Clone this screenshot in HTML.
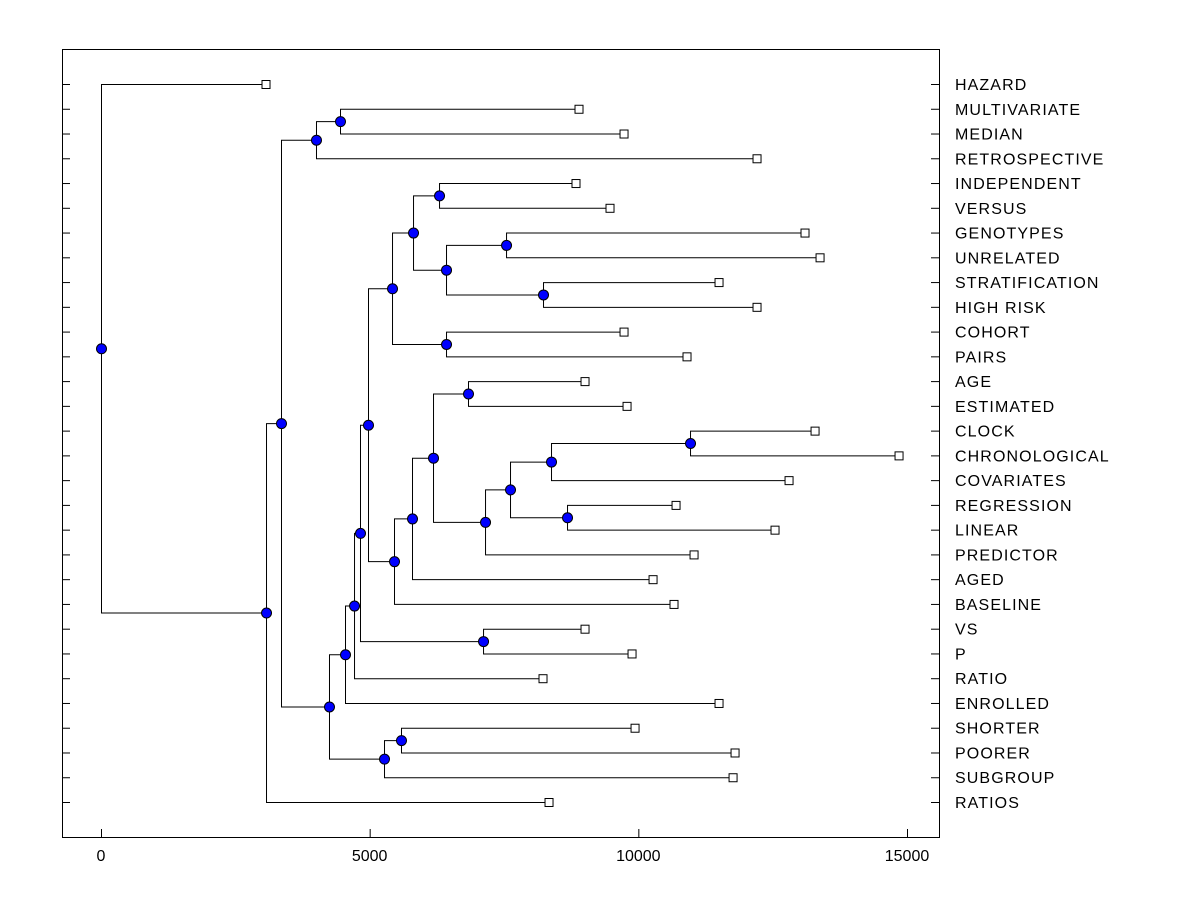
<!DOCTYPE html>
<html><head><meta charset="utf-8"><style>
html,body{margin:0;padding:0;background:#fff}
svg text{font-family:"Liberation Sans",Arial,sans-serif;font-size:16px;fill:#000}
svg text.leaf{letter-spacing:1.1px}
</style></head><body>
<svg id="chart" width="1200" height="900" xmlns="http://www.w3.org/2000/svg">
<rect x="62.5" y="49.5" width="877" height="788" fill="none" stroke="#000" stroke-width="1"/>
<g id="marks"></g>
</svg>
<script>
const leafNames=["HAZARD","MULTIVARIATE","MEDIAN","RETROSPECTIVE","INDEPENDENT","VERSUS","GENOTYPES","UNRELATED","STRATIFICATION","HIGH RISK","COHORT","PAIRS","AGE","ESTIMATED","CLOCK","CHRONOLOGICAL","COVARIATES","REGRESSION","LINEAR","PREDICTOR","AGED","BASELINE","VS","P","RATIO","ENROLLED","SHORTER","POORER","SUBGROUP","RATIOS"];
const leafValues=[3071,8896,9734,12209,8840,9473,13102,13382,11502,12209,9734,10906,9008,9790,13289,14852,12805,10702,12544,11037,10274,10664,9008,9883,8226,11502,9939,11800,11763,8338];
const mergeChildren=[
["L1","L2"],["N0","L3"],["L4","L5"],["L6","L7"],["L8","L9"],["N3","N4"],["N2","N5"],["L10","L11"],["N6","N7"],
["L14","L15"],["N9","L16"],["L17","L18"],["N10","N11"],["N12","L19"],["L12","L13"],["N14","N13"],["N15","L20"],["N16","L21"],
["N8","N17"],["L22","L23"],["N18","N19"],["N20","L24"],["N21","L25"],["L26","L27"],["N23","L28"],["N22","N24"],["N1","N25"],["N26","L29"],["L0","N27"]];
const mergeHeights=[4448,4001,6291,7538,8226,6421,5807,6421,5416,10962,8375,8673,7612,7147,6830,6179,5788,5453,4969,7110,4820,4709,4541,5583,5267,4243,3350,3071,0];
const xTicks=[0,5000,10000,15000];
const X=v=>101+v*(907-101)/15000;
const Y=i=>84+i*(802-84)/29;
const g=document.getElementById('marks');
const NS="http://www.w3.org/2000/svg";
function mk(t,a,name,inter){const e=document.createElementNS(NS,t);for(const k in a)e.setAttribute(k,a[k]);


g.appendChild(e);return e;}
function pos(id){const i=+id.slice(1);if(id[0]=="L")return{x:X(leafValues[i]),y:Y(i)};return nodePos[i];}
const nodePos=[];
mergeChildren.forEach((c,i)=>{const a=pos(c[0]),b=pos(c[1]);nodePos[i]={x:X(mergeHeights[i]),y:(a.y+b.y)/2};});
mergeChildren.forEach((c,i)=>{const n=nodePos[i];const a=pos(c[0]),b=pos(c[1]);
mk('path',{d:`M${a.x} ${a.y+0.5}H${n.x+0.5}V${b.y+0.5}H${b.x}`,fill:'none',stroke:'#000','stroke-width':1},'branch-'+i,'false');});
leafNames.forEach((n,i)=>{const x=X(leafValues[i]),y=Y(i);
mk('rect',{x:x-4,y:y-3.5,width:8,height:8,fill:'#fff',stroke:'#000','stroke-width':1},'leaf-marker-'+i,'false');
mk('line',{x1:62,x2:70,y1:y+0.5,y2:y+0.5,stroke:'#000'},'left-tick','false');
mk('line',{x1:931,x2:939,y1:y+0.5,y2:y+0.5,stroke:'#000'},'right-tick','false');
const t=mk('text',{x:955,y:y+6,'class':'leaf'},'leaf-label','false');t.textContent=n;});
mergeChildren.forEach((c,i)=>{const n=nodePos[i];
mk('circle',{cx:n.x+0.5,cy:n.y+0.5,r:5,fill:'#0000ff',stroke:'#000','stroke-width':1},'node-marker-'+i,'false');});
xTicks.forEach(v=>{const x=X(v);
mk('line',{x1:x+0.5,x2:x+0.5,y1:829,y2:837,stroke:'#000'},'x-tick','false');
const t=mk('text',{x:x,y:861,'text-anchor':'middle'},'x-tick-label','false');t.textContent=v;});
</script>
</body></html>
